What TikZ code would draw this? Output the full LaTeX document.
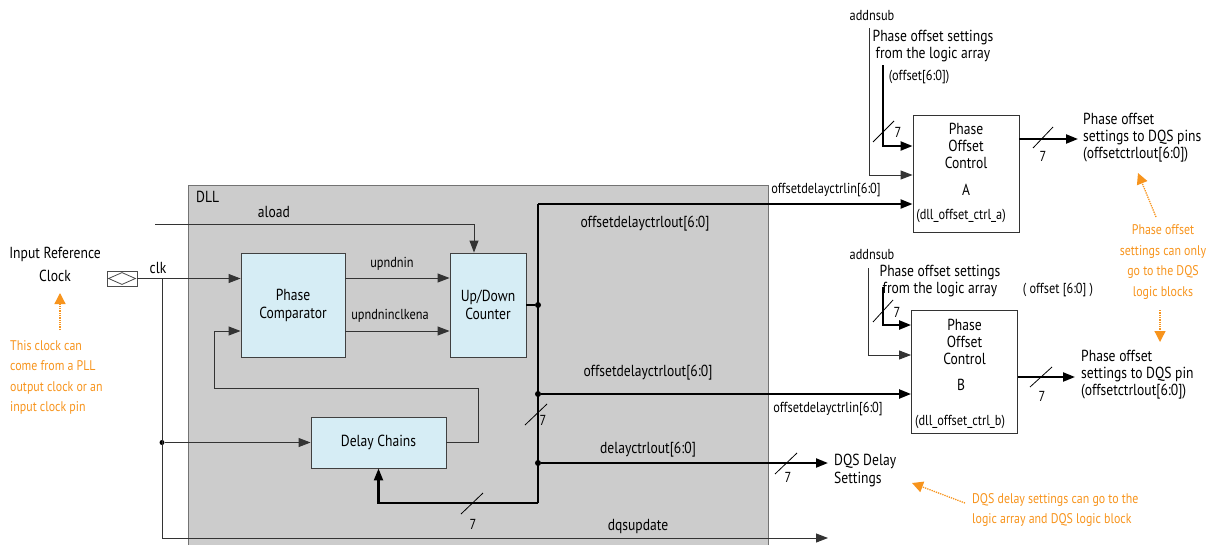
\documentclass[tikz,border=0pt]{standalone}
\usepackage{fontspec}
\setmainfont{PT Sans}[FakeStretch=0.85]
\usetikzlibrary{arrows.meta, positioning}
\definecolor{dllgray}{RGB}{204,204,204}
\definecolor{blockblue}{RGB}{214,237,245}
\definecolor{noteorange}{RGB}{247,148,29}

\begin{document}
\begin{tikzpicture}[x=1pt,y=-1pt,>={Triangle[length=12pt,width=9pt]}]

\tikzset{block/.style = {draw=black!75, fill=blockblue, align=center, inner sep=0pt, line width=0.9pt, font=\fontsize{16}{18}\selectfont}}
\tikzset{ctrlbox/.style = {draw=black!80, fill=white, inner sep=0pt, minimum width=106pt, line width=0.9pt}}
\tikzset{wire/.style = {draw=black!80, line width=0.9pt}}
\tikzset{bus/.style = {draw=black, line width=2.2pt}}
\tikzset{tick/.style = {draw=black, line width=0.8pt}}
\tikzset{lbl/.style = {inner sep=0pt, font=\fontsize{16}{18}\selectfont}}
\tikzset{sml/.style = {inner sep=0pt, font=\fontsize{14.5}{16}\selectfont}}
\tikzset{note/.style = {inner sep=0pt, text=noteorange, align=left, font=\fontsize{14}{20.5}\selectfont}}
\tikzset{hint/.style = {draw=noteorange, densely dotted, line width=1.3pt, -{Triangle[length=11pt,width=11pt,fill=noteorange]}}}
\tikzset{dot/.style = {circle, fill=black, inner sep=0pt, minimum size=6pt}}

\path[use as bounding box, clip] (0,0) rectangle (1228,544);

% DLL frame
\draw[draw=black!55, fill=dllgray, line width=1pt] (188,185) rectangle (768,560);
\node[lbl, anchor=west] (dlllbl) at (196,197) {DLL};

% blocks
\node[block, minimum width=104pt, minimum height=104pt] (pc) at (293,305) {Phase\\Comparator};
\node[block, minimum width=76pt, minimum height=104pt] (udc) at (488,305) {Up/Down\\Counter};
\node[block, minimum width=135pt, minimum height=51pt] (dc) at (378.5,442.5) {Delay Chains};
\node[ctrlbox, minimum height=117pt] (poca) at (966,173.5) {};
\node[ctrlbox, minimum height=123pt] (pocb) at (964.5,371.5) {};
\node[lbl, align=center, below=8pt of poca.north] (pocatxt) {Phase\\[-1pt]Offset\\[-1pt]Control};
\node[lbl] (pocaid) at (966,190) {A};
\node[sml] (pocaname) at (961,216) {(dll\_offset\_ctrl\_a)};
\node[lbl, align=center, below=9pt of pocb.north] (pocbtxt) {Phase\\[-1pt]Offset\\[-1pt]Control};
\node[lbl] (pocbid) at (961,385) {B};
\node[sml] (pocbname) at (960,422) {(dll\_offset\_ctrl\_b)};

% input pin
\node[draw=black!70, fill=white, minimum width=30pt, minimum height=15pt, inner sep=0pt, line width=0.8pt] (pin) at (122,278.5) {};
\draw[black!70, line width=0.8pt] ([xshift=2pt]pin.west) -- ([yshift=-2pt]pin.north) -- ([xshift=-2pt]pin.east) -- ([yshift=2pt]pin.south) -- cycle;
\node[lbl, align=center] (inref) at (55,264) {Input Reference\\[5pt]Clock};
\node[lbl] (clklbl) at (158,268) {clk};

% clock and control wires
\coordinate (clkj) at (162,278.5);
\coordinate (clkb) at (162,538);
\coordinate (dqsupd) at (828,538);
\coordinate (aloadin) at (155,224);
\coordinate (fbl) at (214,388);
\node[dot, minimum size=5pt] (clkd) at (162,442.5) {};
\draw[wire,->] (pin.east) -- (pc.west |- pin.east);
\draw[wire] (clkj) -- (clkb);
\draw[wire,->] (clkb) -- (dqsupd);
\draw[wire,->] (clkd) -- (dc.west);
\draw[wire,->] (aloadin) -| ([xshift=-14pt]udc.north);
\draw[wire,->] ([yshift=27pt]pc.east) -- ([yshift=27pt]udc.west);
\draw[wire,->] ([yshift=-26pt]pc.east) -- ([yshift=-26pt]udc.west);
\draw[wire,->] (dc.east) -- ++(32,0) |- (fbl) |- ([yshift=-26pt]pc.west);
\node[lbl] (aloadlbl) at (274,212) {aload};
\node[sml] (upnlbl) at (392,264) {upndnin};
\node[sml] (upnclbl) at (390,316) {upndninclkena};
\node[lbl] (dqsulbl) at (638,526) {dqsupdate};

% delay control bus
\node[dot] (j1) at (538,305) {};
\node[dot] (j2) at (538,394) {};
\node[dot] (j3) at (538,463) {};
\coordinate (btop) at (538,204);
\coordinate (bbot) at (538,503);
\coordinate (dqsd) at (828,463);
\draw[bus] (udc.east) -- (j1);
\draw[bus] (btop) -- (bbot);
\draw[bus,->] (btop) -- (btop -| poca.west);
\draw[bus,->] (j2) -- (j2 -| pocb.west);
\draw[bus,->] (j3) -- (dqsd);
\draw[bus,->] (bbot) -| (dc.south);
\node[lbl] (odoa) at (645,224) {offsetdelayctrlout[6:0]};
\node[lbl] (odob) at (648,373) {offsetdelayctrlout[6:0]};
\node[lbl] (dco) at (648,450) {delayctrlout[6:0]};
\node[sml] (odia) at (826,190) {offsetdelayctrlin[6:0]};
\node[sml] (odib) at (828,409) {offsetdelayctrlin[6:0]};
\node[lbl, align=left, anchor=west] (dqsdlbl) at (834,470) {DQS Delay\\Settings};

% offset control A
\coordinate (addA) at (869,28);
\coordinate (offA) at (883,65);
\coordinate (outA) at (1078,139);
\draw[wire,->] (addA) |- ([yshift=-1.5pt]poca.west);
\draw[bus,->] (offA) |- ([yshift=27.5pt]poca.west);
\draw[bus,->] ([yshift=34.5pt]poca.east) -- (outA);
\node[sml] (addAlbl) at (872,16) {addnsub};
\node[lbl, align=center] (setA) at (933,46) {Phase offset settings\\[-1pt]from the logic array};
\node[sml] (offAlbl) at (919,77) {(offset[6:0])};
\node[lbl, align=left, anchor=west] (toA) at (1083,138) {Phase offset\\[-1pt]settings to DQS pins\\[-1pt](offsetctrlout[6:0])};

% offset control B
\coordinate (addB) at (868,268);
\coordinate (offB) at (883,287);
\coordinate (outB) at (1075,377);
\draw[wire,->] (addB) |- ([yshift=16.5pt]pocb.west);
\draw[bus,->] (offB) |- ([yshift=46.5pt]pocb.west);
\draw[bus,->] ([yshift=-5.5pt]pocb.east) -- (outB);
\node[sml] (addBlbl) at (872,255) {addnsub};
\node[lbl, align=center] (setB) at (940,281) {Phase offset settings\\[-1pt]from the logic array};
\node[sml] (offBlbl) at (1058,290) {( offset [6:0] )};
\node[lbl, align=left, anchor=west] (toB) at (1081,375) {Phase offset\\[-1pt]settings to DQS pin\\[-1pt](offsetctrlout[6:0])};

% bus width marks
\draw[tick] (525,425) -- (547,404);
\draw[tick] (461,514) -- (483,493);
\draw[tick] (775,474) -- (797,453);
\draw[tick] (873,142) -- (894,121);
\draw[tick] (1033,148) -- (1053,127);
\draw[tick] (873,322) -- (893,300);
\draw[tick] (1030,387) -- (1052,367);
\node[sml] (w1) at (543,420) {7};
\node[sml] (w2) at (473,524) {7};
\node[sml] (w3) at (788,477) {7};
\node[sml] (w4) at (898,132) {7};
\node[sml] (w5) at (1043,156) {7};
\node[sml] (w6) at (897,312) {7};
\node[sml] (w7) at (1042,396) {7};

% notes
\node[note, anchor=north west] (clknote) at (10,340) {This clock can\\come from a PLL\\output clock or an\\input clock pin};
\node[note, align=center] (dqsnote) at (1163,262) {Phase offset\\settings can only\\go to the DQS\\logic blocks};
\node[note, anchor=west] (dlynote) at (972,510) {DQS delay settings can go to the\\logic array and DQS logic block};
\coordinate (clktip) at (60,293);
\coordinate (pinAtip) at (1138,173);
\coordinate (pinBtip) at (1160,342);
\coordinate (dqstip) at (912,483);
\draw[hint] (60,330) -- (clktip);
\draw[hint] (1156,217) -- (pinAtip);
\draw[hint] (1160,310) -- (pinBtip);
\draw[hint] (965,503) -- (dqstip);
\end{tikzpicture}
\end{document}
